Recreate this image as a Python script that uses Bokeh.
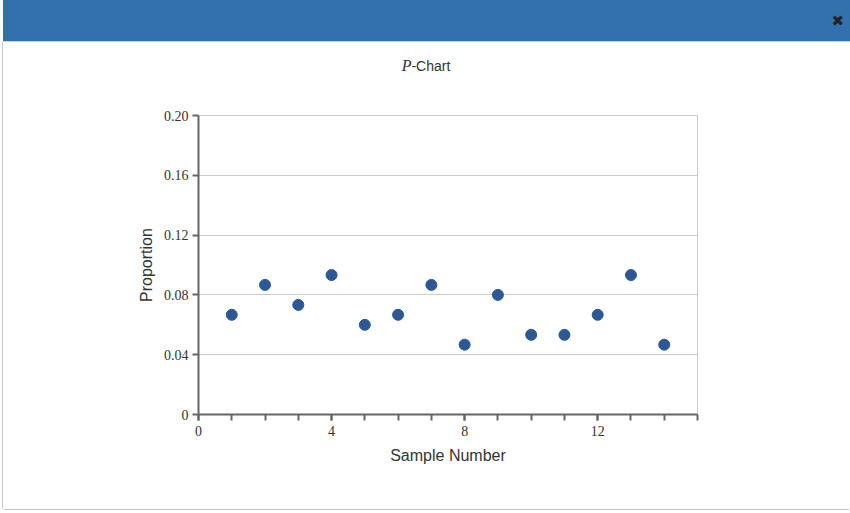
from bokeh.plotting import figure
from bokeh.models import Div, FixedTicker, CustomJSTickFormatter, Range1d
from bokeh.layouts import column
from bokeh.embed import file_html
from bokeh.resources import INLINE

# Data
sample_number = [1, 2, 3, 4, 5, 6, 7, 8, 9, 10, 11, 12, 13, 14]
proportion = [0.0667, 0.0867, 0.0733, 0.0933, 0.0600, 0.0667, 0.0867,
              0.0467, 0.0800, 0.0533, 0.0533, 0.0667, 0.0933, 0.0467]
x_major_ticks = [0, 4, 8, 12]
x_minor_ticks = list(range(0, 16))
y_ticks = [0, 0.04, 0.08, 0.12, 0.16, 0.20]

W = 847

header = Div(
    text='<div style="position:absolute;right:6px;top:11px;font-family:\'DejaVu Sans\';'
         'font-weight:bold;font-size:15px;color:#222;">&#x2716;</div>',
    width=W, height=42, margin=(0, 0, 0, 3),
    styles={"background-color": "#3271ab", "position": "relative",
            "border-bottom": "1px solid #cfcfcf", "box-sizing": "border-box"},
)

title = Div(
    text='<div style="width:846px;text-align:center;font-family:\'Liberation Sans\';'
         'font-size:14px;color:#333;padding-top:13px;">'
         '<span style="font-family:\'Liberation Serif\';font-style:italic;font-size:16px;">P</span>-Chart</div>',
    width=W, height=43, margin=(0, 0, 0, 2),
    styles={"border-left": "1px solid #c8c8c8"},
)

p = figure(
    width=W, height=425, margin=(0, 0, 0, 2),
    x_range=Range1d(0, 15), y_range=Range1d(0, 0.20),
    output_backend="svg", toolbar_location=None,
    min_border_left=195, min_border_right=153,
    min_border_top=30, min_border_bottom=96,
)

p.scatter(sample_number, proportion, size=11, color="#2d5896")

# Grid and outline
p.xgrid.grid_line_color = None
p.ygrid.grid_line_color = "#999999"
p.ygrid.grid_line_dash = "1 1"
p.ygrid.ticker = FixedTicker(ticks=y_ticks)
p.outline_line_color = "#999999"
p.outline_line_dash = "1 1"
p.outline_line_width = 1

# X axis
xa = p.xaxis[0]
xa.ticker = FixedTicker(ticks=x_major_ticks, minor_ticks=x_minor_ticks)
xa.axis_label = "Sample Number"
xa.axis_label_text_font = "Liberation Sans"
xa.axis_label_text_font_style = "normal"
xa.axis_label_text_font_size = "16px"
xa.axis_label_text_color = "#333333"
xa.axis_label_standoff = 8
xa.major_label_text_font = "Liberation Serif"
xa.major_label_text_font_size = "14px"
xa.major_label_text_color = "#333333"
xa.major_label_standoff = 5
xa.axis_line_color = "#666666"
xa.axis_line_width = 2
xa.major_tick_line_color = "#666666"
xa.minor_tick_line_color = "#666666"
xa.major_tick_line_width = 2
xa.minor_tick_line_width = 2
xa.major_tick_in = 0
xa.major_tick_out = 6
xa.minor_tick_in = 0
xa.minor_tick_out = 6

# Y axis
ya = p.yaxis[0]
ya.ticker = FixedTicker(ticks=y_ticks)
ya.formatter = CustomJSTickFormatter(code="return tick == 0 ? '0' : tick.toFixed(2);")
ya.axis_label = "Proportion"
ya.axis_label_text_font = "Liberation Sans"
ya.axis_label_text_font_style = "normal"
ya.axis_label_text_font_size = "16px"
ya.axis_label_text_color = "#333333"
ya.axis_label_standoff = 6
ya.major_label_text_font = "Liberation Serif"
ya.major_label_text_font_size = "14px"
ya.major_label_text_color = "#333333"
ya.major_label_standoff = 4
ya.axis_line_color = "#666666"
ya.axis_line_width = 2
ya.major_tick_line_color = "#666666"
ya.major_tick_line_width = 2
ya.major_tick_in = 0
ya.major_tick_out = 6
ya.minor_tick_line_color = None

# Modal frame edges (left and bottom borders)
p.border_fill_color = "white"
p.styles = {"border-left": "1px solid #c8c8c8", "border-bottom": "1px solid #c8c8c8",
            "border-bottom-left-radius": "4px"}

layout = column(header, title, p, spacing=0)

open("out.html", "w").write(file_html(layout, INLINE))
